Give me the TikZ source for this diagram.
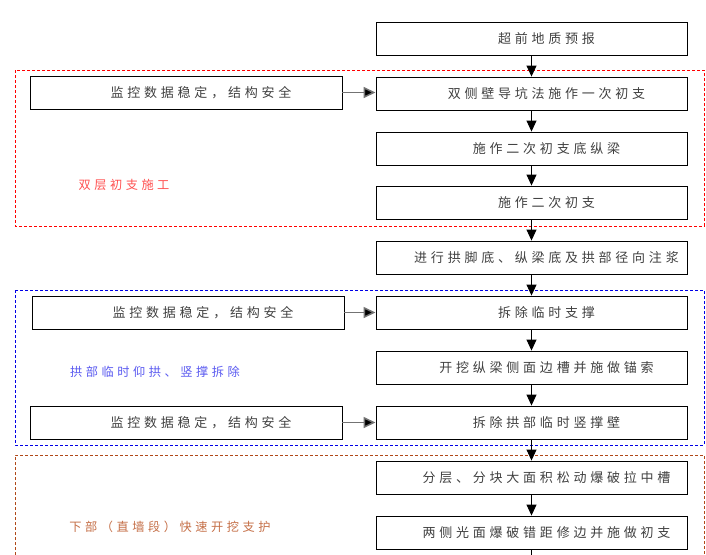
\documentclass[tikz,border=0pt]{standalone}
\usepackage{fontspec}
\usetikzlibrary{arrows.meta}
\newfontfamily\cjk[LetterSpace=29]{Noto Sans CJK SC}
\definecolor{grouprd}{RGB}{255,0,0}
\definecolor{groupbl}{RGB}{0,0,230}
\definecolor{groupbr}{RGB}{176,72,24}
\definecolor{labelrd}{RGB}{255,80,80}
\definecolor{labelbl}{RGB}{90,90,240}
\definecolor{labelbr}{RGB}{196,110,70}
\newcommand{\shift}{\hspace*{30pt}}
\begin{document}
\begin{tikzpicture}[x=1pt,y=-1pt,font=\cjk\fontsize{13}{15}\selectfont,
		stepbox/.style={draw,line width=0.9pt,minimum width=311pt,minimum height=33pt,inner sep=0pt,text=black!75},
		checkbox/.style={draw,line width=0.9pt,minimum width=312pt,minimum height=33pt,inner sep=0pt,text=black!75},
		grouplabel/.style={font=\cjk\fontsize{12.2}{14}\selectfont},
		flow/.style={line width=1pt,-{Triangle[width=10pt,length=11pt]}},
		feed/.style={line width=1.5pt,black!55,-{Triangle[width=11pt,length=12pt,fill=black]}},
		group/.style={line width=0.7pt,dash pattern=on 3pt off 2pt}]
		\useasboundingbox (0,0) rectangle (706,554);
		\draw [group,grouprd] (15,70) rectangle (704,226);
		\draw [group,groupbl] (15,290) rectangle (704,445);
		\draw [group,groupbr] (15,560) |- (704,455) -- (704,560);
		\node [stepbox] (s1) at (531.5,38.5) {\shift 超前地质预报};
		\node [stepbox] (s2) at (531.5,93.5) {\shift 双侧壁导坑法施作一次初支};
		\node [stepbox] (s3) at (531.5,148.5) {\shift 施作二次初支底纵梁};
		\node [stepbox] (s4) at (531.5,202.5) {\shift 施作二次初支};
		\node [stepbox] (s5) at (531.5,257.5) {\shift 进行拱脚底、纵梁底及拱部径向注浆};
		\node [stepbox] (s6) at (531.5,312.5) {\shift 拆除临时支撑};
		\node [stepbox] (s7) at (531.5,367.5) {\shift 开挖纵梁侧面边槽并施做锚索};
		\node [stepbox] (s8) at (531.5,422.5) {\shift 拆除拱部临时竖撑壁};
		\node [stepbox] (s9) at (531.5,477.5) {\shift 分层、分块大面积松动爆破拉中槽};
		\node [stepbox] (s10) at (531.5,532.5) {\shift 两侧光面爆破错距修边并施做初支};
		\node [checkbox] (c1) at (186,92.5) {\shift 监控数据稳定，结构安全};
		\node [checkbox] (c2) at (188,312.5) {\shift 监控数据稳定，结构安全};
		\node [checkbox] (c3) at (186,422.5) {\shift 监控数据稳定，结构安全};
		\node [grouplabel,text=labelrd] (g1) at (124,185) {双层初支施工};
		\node [grouplabel,text=labelbl] (g2) at (155,372) {拱部临时仰拱、竖撑拆除};
		\node [grouplabel,text=labelbr] (g3) at (170,527) {下部（直墙段）快速开挖支护};
		\coordinate (out) at (531.5,556);
		\foreach \a/\b in {s1/s2,s2/s3,s3/s4,s4/s5,s5/s6,s6/s7,s7/s8,s8/s9,s9/s10}
			\draw [flow] (\a) -- (\b);
		\draw [line width=1pt] (s10) -- (out);
		\draw [feed] (c1.east) -- (c1.east -| s2.west);
		\draw [feed] (c2.east) -- (c2.east -| s6.west);
		\draw [feed] (c3.east) -- (c3.east -| s8.west);
	\end{tikzpicture}
\end{document}
